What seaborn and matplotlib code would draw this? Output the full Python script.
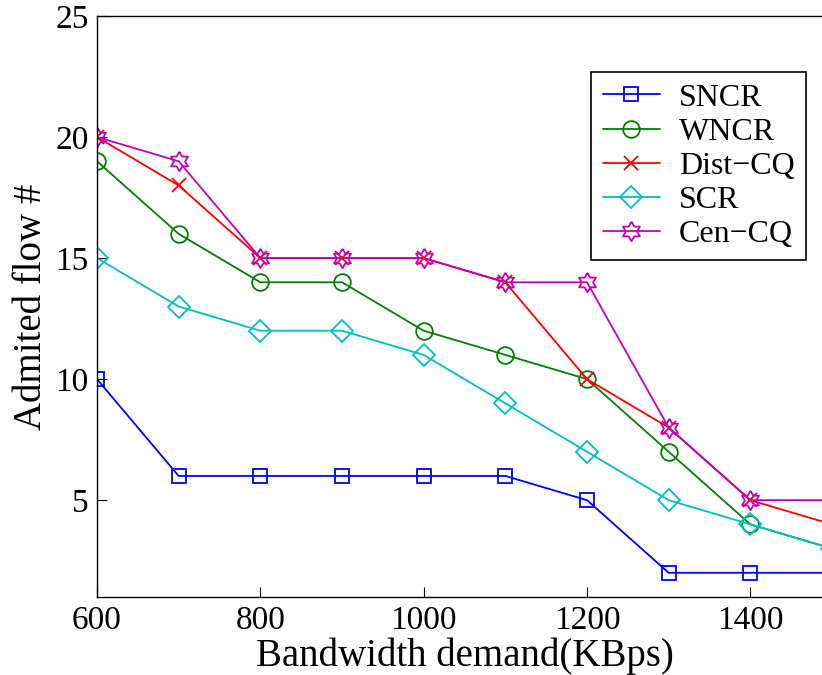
import numpy as np
import pandas as pd
import matplotlib
matplotlib.use("Agg")
import matplotlib.pyplot as plt
import seaborn as sns

# ---- data ----
bandwidth = [600, 700, 800, 900, 1000, 1100, 1200, 1300, 1400, 1500]
sncr = [10, 6, 6, 6, 6, 6, 5, 2, 2, 2]
wncr = [19, 16, 14, 14, 12, 11, 10, 7, 4, 3]
dist_cq = [20, 18, 15, 15, 15, 14, 10, 8, 5, 4]
scr = [15, 13, 12, 12, 11, 9, 7, 5, 4, 3]
cen_cq = [20, 19, 15, 15, 15, 14, 14, 8, 5, 5]
series_names = ["SNCR", "WNCR", "Dist\u2212CQ", "SCR", "Cen\u2212CQ"]
x_ticks = [600, 800, 1000, 1200, 1400]
y_ticks = [5, 10, 15, 20, 25]

sns.set_style("ticks")
plt.rcParams["font.family"] = ["Liberation Serif", "DejaVu Serif"]
plt.rcParams["xtick.direction"] = "in"
plt.rcParams["ytick.direction"] = "in"
plt.rcParams["text.color"] = "black"
plt.rcParams["axes.labelcolor"] = "black"
plt.rcParams["xtick.color"] = "black"
plt.rcParams["ytick.color"] = "black"

# hexagram marker shape
ang = np.linspace(0, 2 * np.pi, 13)[:-1] + np.pi / 2
rad = np.where(np.arange(12) % 2 == 0, 1.0, 0.58)
hexagram = list(zip(rad * np.cos(ang), rad * np.sin(ang)))
hexagram.append(hexagram[0])

fig = plt.figure(figsize=(8.22, 6.75), dpi=100)
ax = fig.add_axes([97 / 822, 78 / 675, 735 / 822, 581 / 675])

all_series = [sncr, wncr, dist_cq, scr, cen_cq]
colors = ["#0000ff", "#008000", "#ff0000", "#00bfbf", "#bf00bf"]
markers = ["s", "o", "x", "D", hexagram]
msizes = [10, 12, 10, 11, 14]

for name, vals, c, m, ms in zip(series_names, all_series, colors, markers, msizes):
    df = pd.DataFrame({"x": bandwidth, "y": vals})
    kw = dict(marker=m, markersize=ms, markeredgecolor=c, markeredgewidth=1.3)
    if m != "x":
        kw["markerfacecolor"] = "none"
    sns.lineplot(data=df, x="x", y="y", ax=ax, color=c, linewidth=1.3,
                 label=name, **kw)

ax.set_xlim(600, 1500)
ax.set_ylim(1, 25)
ax.set_xticks(x_ticks)
ax.set_yticks(y_ticks)
ax.tick_params(labelsize=24, length=7, width=0.8, colors="black", pad=6)
ax.set_xlabel("Bandwidth demand(KBps)", fontsize=28, labelpad=1)
ax.set_ylabel("Admited flow #", fontsize=28, labelpad=4)
for s in ax.spines.values():
    s.set_color("black")
    s.set_linewidth(1.0)

leg = ax.legend(loc="upper right", bbox_to_anchor=(806 / 822, 1 - 72 / 675),
                bbox_transform=fig.transFigure, borderaxespad=0, fontsize=23,
                frameon=True, fancybox=False, edgecolor="black", framealpha=1,
                handlelength=1.8, labelspacing=0.15, borderpad=0.35, handletextpad=0.6)
leg.get_frame().set_linewidth(1.2)

fig.savefig("out.png", dpi=100)
